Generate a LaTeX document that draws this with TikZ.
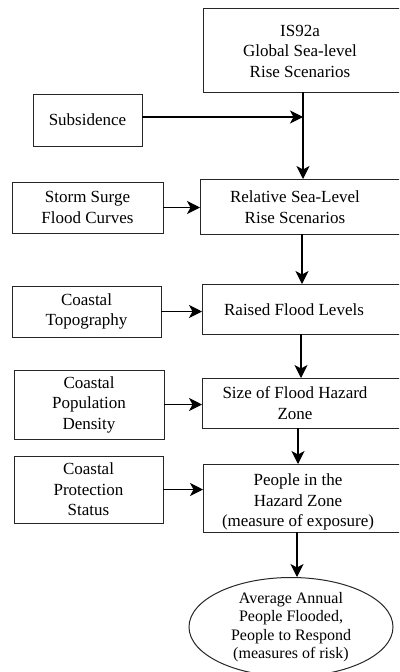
\documentclass[tikz,border=0pt]{standalone}
\usepackage{fontspec}
\setmainfont{Liberation Serif}
\usetikzlibrary{arrows.meta,shapes.geometric}
\begin{document}
\begin{tikzpicture}[x=1pt,y=-1pt,
  frame/.style={draw=black!85, line width=1pt, rectangle, inner sep=0pt, outer sep=0pt},
  sidebox/.style={frame, align=center, font=\fontsize{17}{20.5}\selectfont},
  stagebox/.style={frame, anchor=north west, minimum width=230pt},
  stagetext/.style={align=center, inner sep=0pt, font=\fontsize{17}{20.5}\selectfont},
  arr/.style={line width=1.1pt, -{Stealth[length=13pt,width=13pt,inset=3.5pt]}}]
\useasboundingbox (0,0) rectangle (399,672);
\clip (0,0) rectangle (399,672);

% main chain of stages (boxes run off the right edge)
\node[stagebox, minimum height=84pt] (top)    at (203,8)   {};
\node[stagetext] (topT)    at (300,51)  {IS92a\\Global Sea-level\\Rise Scenarios};
\node[stagebox, minimum height=55pt] (rel)    at (200,179) {};
\node[stagetext] (relT)    at (295,207) {Relative Sea-Level\\Rise Scenarios};
\node[stagebox, minimum height=50pt] (raised) at (202,284) {};
\node[stagetext] (raisedT) at (294,310) {Raised Flood Levels};
\node[stagebox, minimum height=50pt] (size)   at (202,378) {};
\node[stagetext] (sizeT)   at (295,403) {Size of Flood Hazard\\Zone};
\node[stagebox, minimum height=68pt] (people) at (203,464) {};
\node[stagetext] (peopleT) at (298,502) {People in the\\Hazard Zone\\(measure of exposure)};

\node[draw=black!85, line width=1pt, ellipse, minimum width=204pt, minimum height=98pt,
      inner sep=0pt, align=center, font=\fontsize{16}{18.5}\selectfont]
  (risk) at (291,627) {Average Annual\\People Flooded,\\People to Respond\\(measures of risk)};

% side inputs
\node[sidebox, minimum width=109pt, minimum height=52pt] (subs)    at (87.5,120)   {Subsidence};
\node[sidebox, minimum width=151pt, minimum height=51pt] (storm)   at (87.5,207.5) {Storm Surge\\Flood Curves};
\node[sidebox, minimum width=149pt, minimum height=51pt] (topo)    at (86.5,311.5) {Coastal\\Topography};
\node[sidebox, minimum width=150pt, minimum height=69pt] (popden)  at (89,404.5)   {Coastal\\Population\\Density};
\node[sidebox, minimum width=149pt, minimum height=67pt] (protect) at (88.5,489.5) {Coastal\\Protection\\Status};

% connectors
\coordinate (j) at (303,117);
\draw[arr] ([xshift=100pt]top.south west) -- ([xshift=103pt]rel.north west);
\draw[arr] (subs.east |- j) -- (j);
\draw[arr] (storm.east) -- (storm.east -| rel.west);
\draw[arr] ([xshift=102pt]rel.south west) -- ([xshift=100pt]raised.north west);
\draw[arr] (topo.east) -- (topo.east -| raised.west);
\draw[arr] ([xshift=99pt]raised.south west) -- ([xshift=99pt]size.north west);
\draw[arr] (popden.east) -- (popden.east -| size.west);
\draw[arr] ([xshift=96pt]size.south west) -- ([xshift=95pt]people.north west);
\draw[arr] (protect.east) -- (protect.east -| people.west);
\draw[arr] ([xshift=94pt]people.south west) -- ([xshift=6pt]risk.north);
\end{tikzpicture}
\end{document}
